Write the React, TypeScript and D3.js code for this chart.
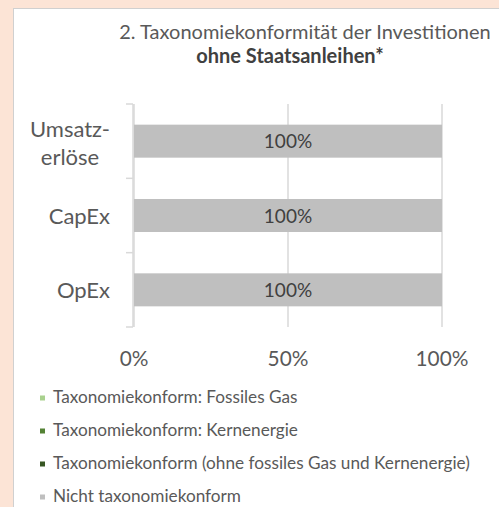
import React from "react";
import * as d3 from "d3";

const categories = ["Umsatzerlöse", "CapEx", "OpEx"];
const categoryLabelLines = [["Umsatz-", "erlöse"], ["CapEx"], ["OpEx"]];
const seriesNames = [
  "Taxonomiekonform: Fossiles Gas",
  "Taxonomiekonform: Kernenergie",
  "Taxonomiekonform (ohne fossiles Gas und Kernenergie)",
  "Nicht taxonomiekonform",
];
const seriesColors = ["#a9d18e", "#548235", "#375623", "#bfbfbf"];
const fossilGas = [0, 0, 0];
const nuclear = [0, 0, 0];
const alignedOther = [0, 0, 0];
const notAligned = [1, 1, 1];
const xTicks = [0, 0.5, 1];
const titleLine1 = "2. Taxonomiekonformität der Investitionen";
const titleLine2 = "ohne Staatsanleihen*";

const W = 499;
const H = 507;
const FONT = "Lato, 'Open Sans', sans-serif";
const TEXT = "#595959";

export default function App() {
  const rows = categories.map((c, i) => ({
    cat: c,
    s0: fossilGas[i],
    s1: nuclear[i],
    s2: alignedOther[i],
    s3: notAligned[i],
  }));
  const keys = ["s0", "s1", "s2", "s3"];
  const stacked = d3.stack<any>().keys(keys)(rows);

  const x = d3.scaleLinear().domain([0, 1]).range([134, 442]);
  const y = d3
    .scaleBand<string>()
    .domain(categories)
    .range([104, 327])
    .paddingInner(0.556)
    .paddingOuter(0.278);
  const step = y.step();
  const bounds = categories.map((c) => (y(c) as number) - (step - y.bandwidth()) / 2);
  bounds.push(327);

  const pct = d3.format(".0%");

  return (
    <svg
      width={W}
      height={H}
      style={{ position: "absolute", left: 0, top: 0, display: "block" }}
    >
      <rect x={0} y={0} width={W} height={H} fill="#fce4d6" />
      <rect x={13.5} y={8.5} width={W} height={H} fill="#ffffff" stroke="#d0d0d0" strokeWidth={1} />

      {/* title */}
      <text x={305} y={39} textAnchor="middle" fontFamily={FONT} fontSize={20} fill={TEXT}>
        {titleLine1}
      </text>
      <text x={290} y={63} textAnchor="middle" fontFamily={FONT} fontSize={20} fontWeight="bold" fill="#404040">
        {titleLine2}
      </text>

      {/* gridlines */}
      {xTicks.map((t) => (
        <line key={t} x1={x(t)} x2={x(t)} y1={104} y2={327} stroke="#d9d9d9" strokeWidth={1.5} />
      ))}

      {/* category axis */}
      <line x1={133} x2={133} y1={104} y2={327} stroke="#d9d9d9" strokeWidth={1.5} />
      {bounds.map((b, i) => (
        <line key={i} x1={126} x2={133} y1={b} y2={b} stroke="#d9d9d9" strokeWidth={1.5} />
      ))}

      {/* bars */}
      {stacked.map((s, si) => (
        <g key={si} fill={seriesColors[si]}>
          {s.map((d, di) =>
            d[1] - d[0] > 0 ? (
              <rect
                key={di}
                x={x(d[0])}
                y={y(categories[di])}
                width={x(d[1]) - x(d[0])}
                height={y.bandwidth()}
              />
            ) : null
          )}
        </g>
      ))}
      {stacked.map((s, si) =>
        s.map((d, di) =>
          d[1] - d[0] > 0 ? (
            <text
              key={`${si}-${di}`}
              x={(x(d[0]) + x(d[1])) / 2}
              y={(y(categories[di]) as number) + y.bandwidth() / 2 + 7}
              textAnchor="middle"
              fontFamily={FONT}
              fontSize={19}
              fill="#404040"
            >
              {pct(d[1] - d[0])}
            </text>
          ) : null
        )
      )}

      {/* category labels */}
      {categoryLabelLines.map((lines, i) => {
        const cy = (y(categories[i]) as number) + y.bandwidth() / 2;
        const lh = 28;
        const multi = lines.length > 1;
        const first = cy + (multi ? 9.5 : 8) - ((lines.length - 1) * lh) / 2;
        return (
          <text
            key={i}
            fontFamily={FONT}
            fontSize={22}
            fill={TEXT}
            textAnchor={multi ? "middle" : "end"}
          >
            {lines.map((l, li) => (
              <tspan key={li} x={multi ? 70 : 110} y={first + li * lh}>
                {l}
              </tspan>
            ))}
          </text>
        );
      })}

      {/* x tick labels */}
      {xTicks.map((t) => (
        <text key={t} x={x(t)} y={366} textAnchor="middle" fontFamily={FONT} fontSize={20.8} fill={TEXT}>
          {pct(t)}
        </text>
      ))}

      {/* legend */}
      {seriesNames.map((n, i) => (
        <g key={i} transform={`translate(0, ${398 + i * 33})`}>
          <rect x={40} y={-2.5} width={5} height={5} fill={seriesColors[i]} />
          <text x={53} y={5} fontFamily={FONT} fontSize={17.2} fill={TEXT}>
            {n}
          </text>
        </g>
      ))}
    </svg>
  );
}
